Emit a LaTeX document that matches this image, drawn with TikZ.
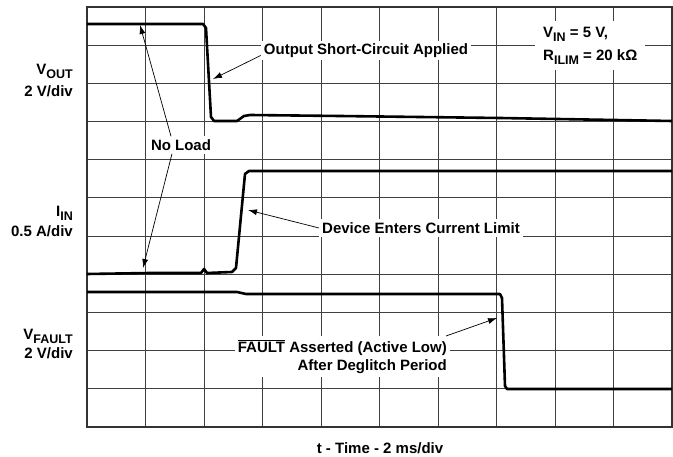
\documentclass[tikz,border=0pt]{standalone}
\usepackage{amsmath}
\usepackage{fontspec}
\setmainfont{Liberation Sans}
\usepackage{tikz}
\usetikzlibrary{arrows.meta,positioning,calc}

\newcommand{\lsub}[1]{\raisebox{-3.5pt}{\fontsize{12.5}{12.5}\selectfont #1}}

\tikzset{
  lbl/.style={font=\fontsize{15}{18}\selectfont\bfseries, inner sep=0pt},
  tag/.style={lbl, fill=white, inner sep=3pt},
  trace/.style={line width=2.6pt, line join=round},
  gridline/.style={black!75, line width=1pt},
  pointer/.style={-{Latex[length=9pt,width=6pt]}, line width=0.7pt},
}

\begin{document}
\begin{tikzpicture}[x=1pt,y=-1pt]
            \useasboundingbox (0,0) rectangle (673,457);
            % grid
            \foreach \i in {0,...,10}
                \draw[gridline] ({87+58.5*\i},7) -- ({87+58.5*\i},427);
            \foreach \j in {0,...,11}
                \draw[gridline] (87,{7+38.18*\j}) -- (672,{7+38.18*\j});
            \draw[black!80, line width=1.4pt] (87,7) rectangle (672,427);
            % traces
            \draw[trace] (87,24) -- (203,24) -- (206,28) -- (211,117) -- (214,121) -- (237,121) -- (244,116) -- (250,115) -- (340,116) -- (500,118) -- (672,121);
            \draw[trace] (87,274) -- (150,273) -- (201,273) -- (204,269) -- (207,273) -- (232,272) -- (236,268) -- (245,174) -- (249,171) -- (672,171);
            \draw[trace] (87,292) -- (237,292) -- (246,294) -- (500,294) -- (502,298) -- (505,386) -- (507,389) -- (672,389);
            % channel labels
            \node[lbl, anchor=base east] (vout) at (73,75) {V\lsub{OUT}};
            \node[lbl, anchor=base east] (voutdiv) at (73,97) {2 V/div};
            \node[lbl, anchor=base east] (iin) at (73,217) {I\lsub{IN}};
            \node[lbl, anchor=base east] (iindiv) at (73,237) {0.5 A/div};
            \node[lbl, anchor=base east] (vflt) at (73,340) {V\lsub{FAULT}};
            \node[lbl, anchor=base east] (vfltdiv) at (73,359) {2 V/div};
            \node[lbl] (taxis) at (380,448) {t - Time - 2 ms/div};
            % annotations
            \node[tag] (noload) at (181,145) {No Load};
            \node[tag] (osc) at (366,50.5) {Output Short-Circuit Applied};
            \node[tag, align=left, anchor=north west, inner xsep=8pt, inner ysep=6pt, font=\fontsize{15}{23}\selectfont\bfseries] (cond) at (535,21) {V\lsub{IN} = 5 V,\\R\lsub{ILIM} = 20 kΩ};
            \node[tag] (dev) at (421,228) {Device Enters Current Limit};
            \node[tag, align=right, anchor=north east] (flt) at (450,336) {$\overline{\text{FAULT}}$ Asserted (Active Low)\\After Deglitch Period};
            % arrow tips
            \coordinate (nltop) at (140,25);
            \coordinate (nlbot) at (143,268);
            \coordinate (oscend) at (213,79);
            \coordinate (devend) at (248,210);
            \coordinate (fltend) at (497,318);
            \draw[pointer] ([xshift=-10pt]noload.north) -- (nltop);
            \draw[pointer] ([xshift=-9pt]noload.south) -- (nlbot);
            \draw[pointer] ([yshift=-5pt]osc.west) -- (oscend);
            \draw[pointer] (dev.west) -- (devend);
            \draw[pointer] ([xshift=-4pt]flt.north east) -- (fltend);
\end{tikzpicture}
\end{document}
